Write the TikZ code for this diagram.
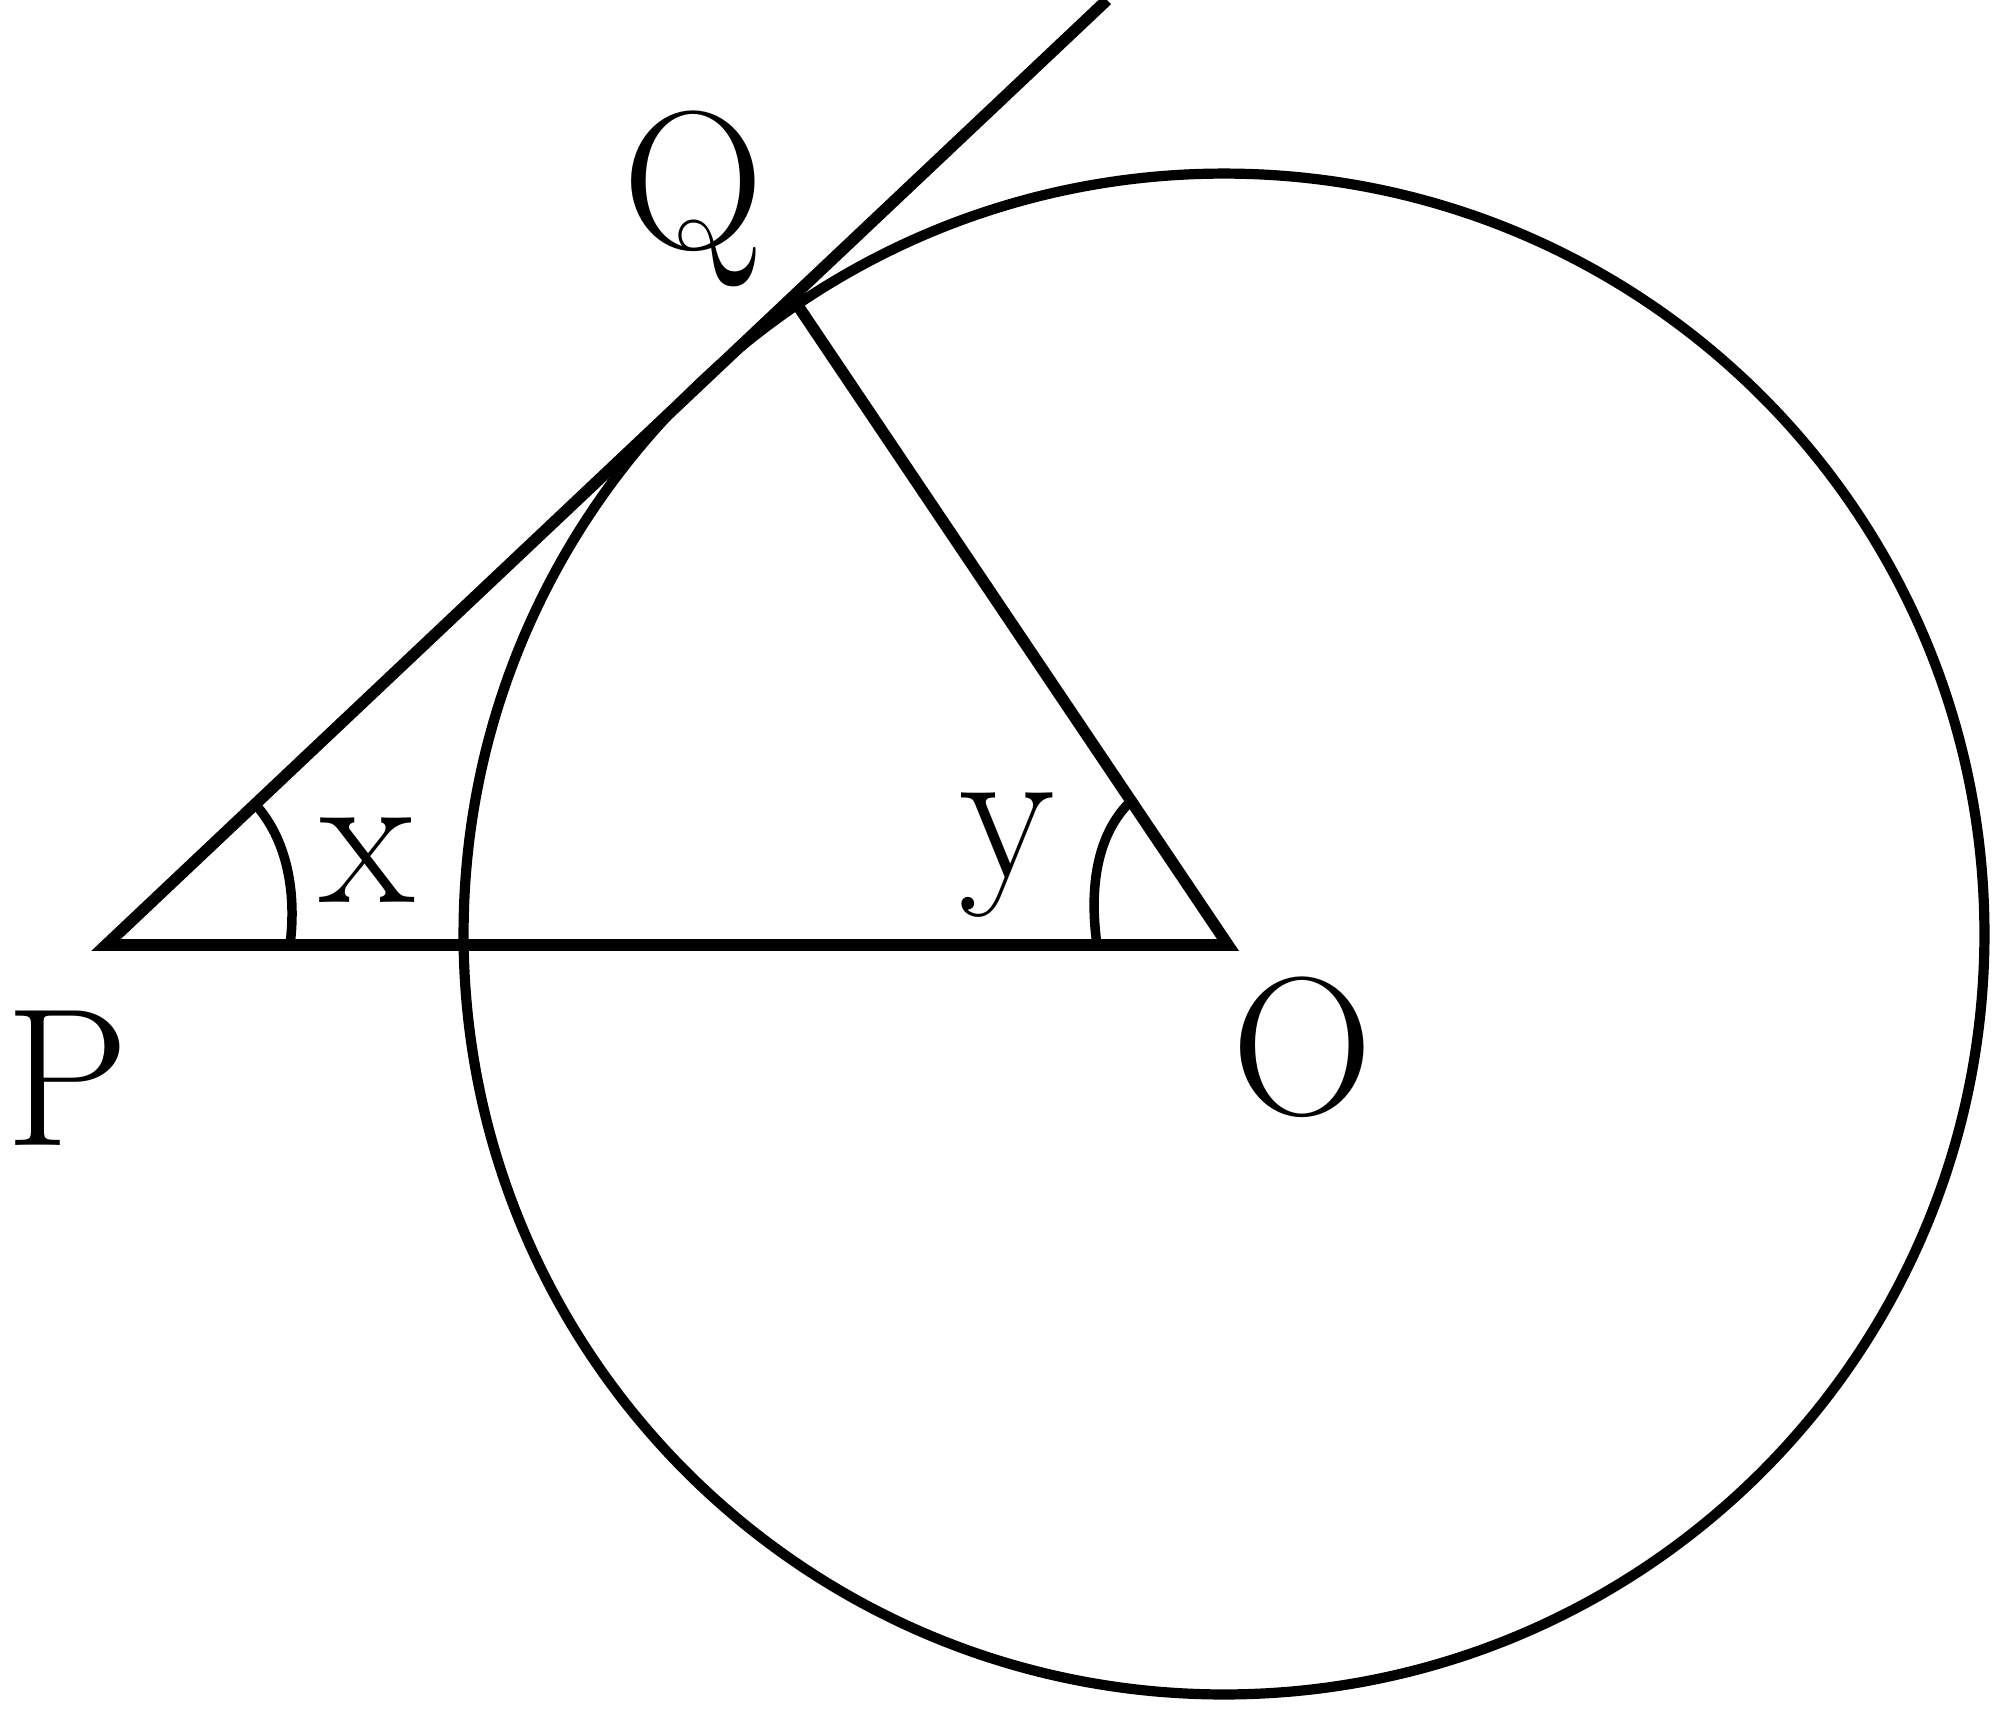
\documentclass[tikz,border=0pt]{standalone}
\usepackage{fontspec}
\begin{document}
\begin{tikzpicture}[x=0.01cm,y=-0.01cm,
  edge/.style={line width=3.3pt, line join=miter},
  ang/.style={line width=2.7pt},
  lbl/.style={inner sep=0pt, anchor=base, font=\fontsize{56}{60}\selectfont}]
\useasboundingbox (0,0) rectangle (2000,1720);
\coordinate (P) at (106,945);
\coordinate (O) at (1228,945);
\coordinate (T) at (1107,0);
\coordinate (Q) at (792,297);
\coordinate (C) at (1224,934);
% circle
\draw[line width=2.9pt] (C) circle[radius=7.6cm];
% triangle and tangent line
\draw[edge] (T) -- (P) -- (O) -- (Q);
% angle marks
\draw[ang] (290,945) .. controls (297,890) and (286,838) .. (255,804);
\draw[ang] (1097,945) .. controls (1088,880) and (1100,830) .. (1132,800);
% labels
\node[lbl] (lP) at (67,1145) {P};
\node[lbl] (lQ) at (693,248) {Q};
\node[lbl] (lO) at (1302,1114) {O};
\node[lbl] (lx) at (367,902) {x};
\node[lbl] (ly) at (1007,877) {y};
\end{tikzpicture}
\end{document}
